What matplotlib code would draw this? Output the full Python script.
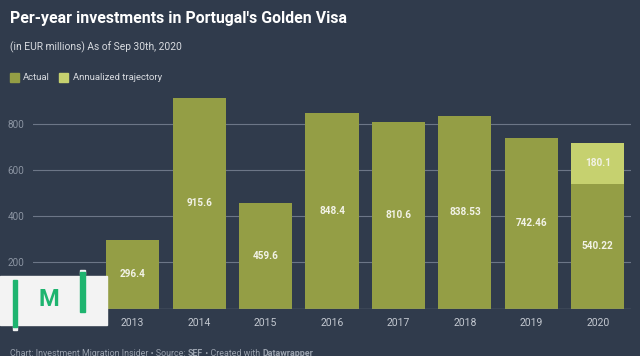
import numpy as np
import matplotlib
matplotlib.use("Agg")
import matplotlib.pyplot as plt
from matplotlib.patches import Rectangle

# data
years = ["2012", "2013", "2014", "2015", "2016", "2017", "2018", "2019", "2020"]
actual = [13.7, 296.4, 915.6, 459.6, 848.4, 810.6, 838.53, 742.46, 540.22]
annualized = [0, 0, 0, 0, 0, 0, 0, 0, 180.1]
yticks = [200, 400, 600, 800]

bg = "#303b4c"
c_actual = "#949e45"
c_annual = "#c6d16f"
grid_c = "#6c7687"
tick_c = "#8b94a2"
lab_c = "#f2f2e6"

plt.rcParams["font.family"] = ["Roboto", "DejaVu Sans"]

fig = plt.figure(figsize=(6.4, 3.56), dpi=100, facecolor=bg)
ax = fig.add_axes([33 / 640, 1 - 308.5 / 356, 598 / 640, 216.5 / 356])
ax.set_facecolor(bg)

x = np.arange(len(years))
ax.bar(x, actual, width=0.8, color=c_actual, zorder=3)
ax.bar(x, annualized, width=0.8, bottom=actual, color=c_annual, zorder=3)

for i, v in enumerate(actual):
	if i == 0:
		continue
	ax.text(i, v / 2, f"{v:g}", ha="center", va="center", color=lab_c,
			fontsize=7.2, fontweight="bold", zorder=4)
for i, v in enumerate(annualized):
	if v > 0:
		ax.text(i, actual[i] + v / 2, f"{v:g}", ha="center", va="center", color=lab_c,
				fontsize=7.2, fontweight="bold", zorder=4)

for t in yticks:
	ax.axhline(t, color=grid_c, lw=0.8, zorder=1)
ax.axhline(0, color="#8a93a0", lw=0.9, zorder=4)

ax.set_xlim(-0.5, len(years) - 0.5)
ax.set_ylim(0, 941)
ax.set_xticks(x)
ax.set_xticklabels(years, color="#c3c8d0", fontsize=7.5)
ax.set_yticks(yticks)
ax.set_yticklabels([str(t) for t in yticks], color=tick_c, fontsize=7.2)
ax.tick_params(axis="both", length=0)
ax.tick_params(axis="x", pad=7)
ax.tick_params(axis="y", pad=6)
for s in ax.spines.values():
	s.set_visible(False)

# header
fig.text(10 / 640, 1 - 18 / 356, "Per-year investments in Portugal's Golden Visa",
		 color="white", fontsize=11.4, fontweight="bold", va="center")
fig.text(10 / 640, 1 - 47 / 356, "(in EUR millions) As of Sep 30th, 2020",
		 color="#d8dbe0", fontsize=7.4, va="center")

# legend
fig.patches.append(Rectangle((10 / 640, 1 - 82 / 356), 9 / 640, 9 / 356,
							 transform=fig.transFigure, color=c_actual))
fig.text(23 / 640, 1 - 77.5 / 356, "Actual", color="#d8dbe0", fontsize=6.8, va="center")
fig.patches.append(Rectangle((59 / 640, 1 - 82 / 356), 9 / 640, 9 / 356,
							 transform=fig.transFigure, color=c_annual))
fig.text(73 / 640, 1 - 77.5 / 356, "Annualized trajectory", color="#d8dbe0", fontsize=6.8, va="center")

# footer, pieces laid out one after another
renderer = fig.canvas.get_renderer()
parts = [("Chart: Investment Migration Insider • Source: ", "normal"), ("SEF", "bold"),
		 (" • Created with ", "normal"), ("Datawrapper", "bold")]
xpos = 10
for txt, w in parts:
	t = fig.text(xpos / 640, 1 - 353 / 356, txt, color="#9aa2ae", fontsize=6.4,
				 fontweight=w, va="center")
	xpos += t.get_window_extent(renderer).width

# IMI logo overlay
fig.patches.append(Rectangle((0, 1 - 325 / 356), 107 / 640, 49 / 356,
							 transform=fig.transFigure, color="#f3f3f3", zorder=10))
green = "#1eb46f"
fig.patches.append(Rectangle((13 / 640, 1 - 330 / 356), 4 / 640, 4 / 356,
							 transform=fig.transFigure, color="#f3f3f3", zorder=11))
fig.patches.append(Rectangle((13 / 640, 1 - 327 / 356), 4 / 640, 47 / 356,
							 transform=fig.transFigure, color=green, zorder=11))
fig.patches.append(Rectangle((80 / 640, 1 - 274 / 356), 5 / 640, 4 / 356,
							 transform=fig.transFigure, color="#f3f3f3", zorder=11))
fig.patches.append(Rectangle((80 / 640, 1 - 312 / 356), 5 / 640, 40 / 356,
							 transform=fig.transFigure, color=green, zorder=11))
fig.text(49 / 640, 1 - 300 / 356, "M", color=green, fontsize=17, fontweight="bold",
		 ha="center", va="center", zorder=12)

fig.savefig("out.png", dpi=100, facecolor=bg)
